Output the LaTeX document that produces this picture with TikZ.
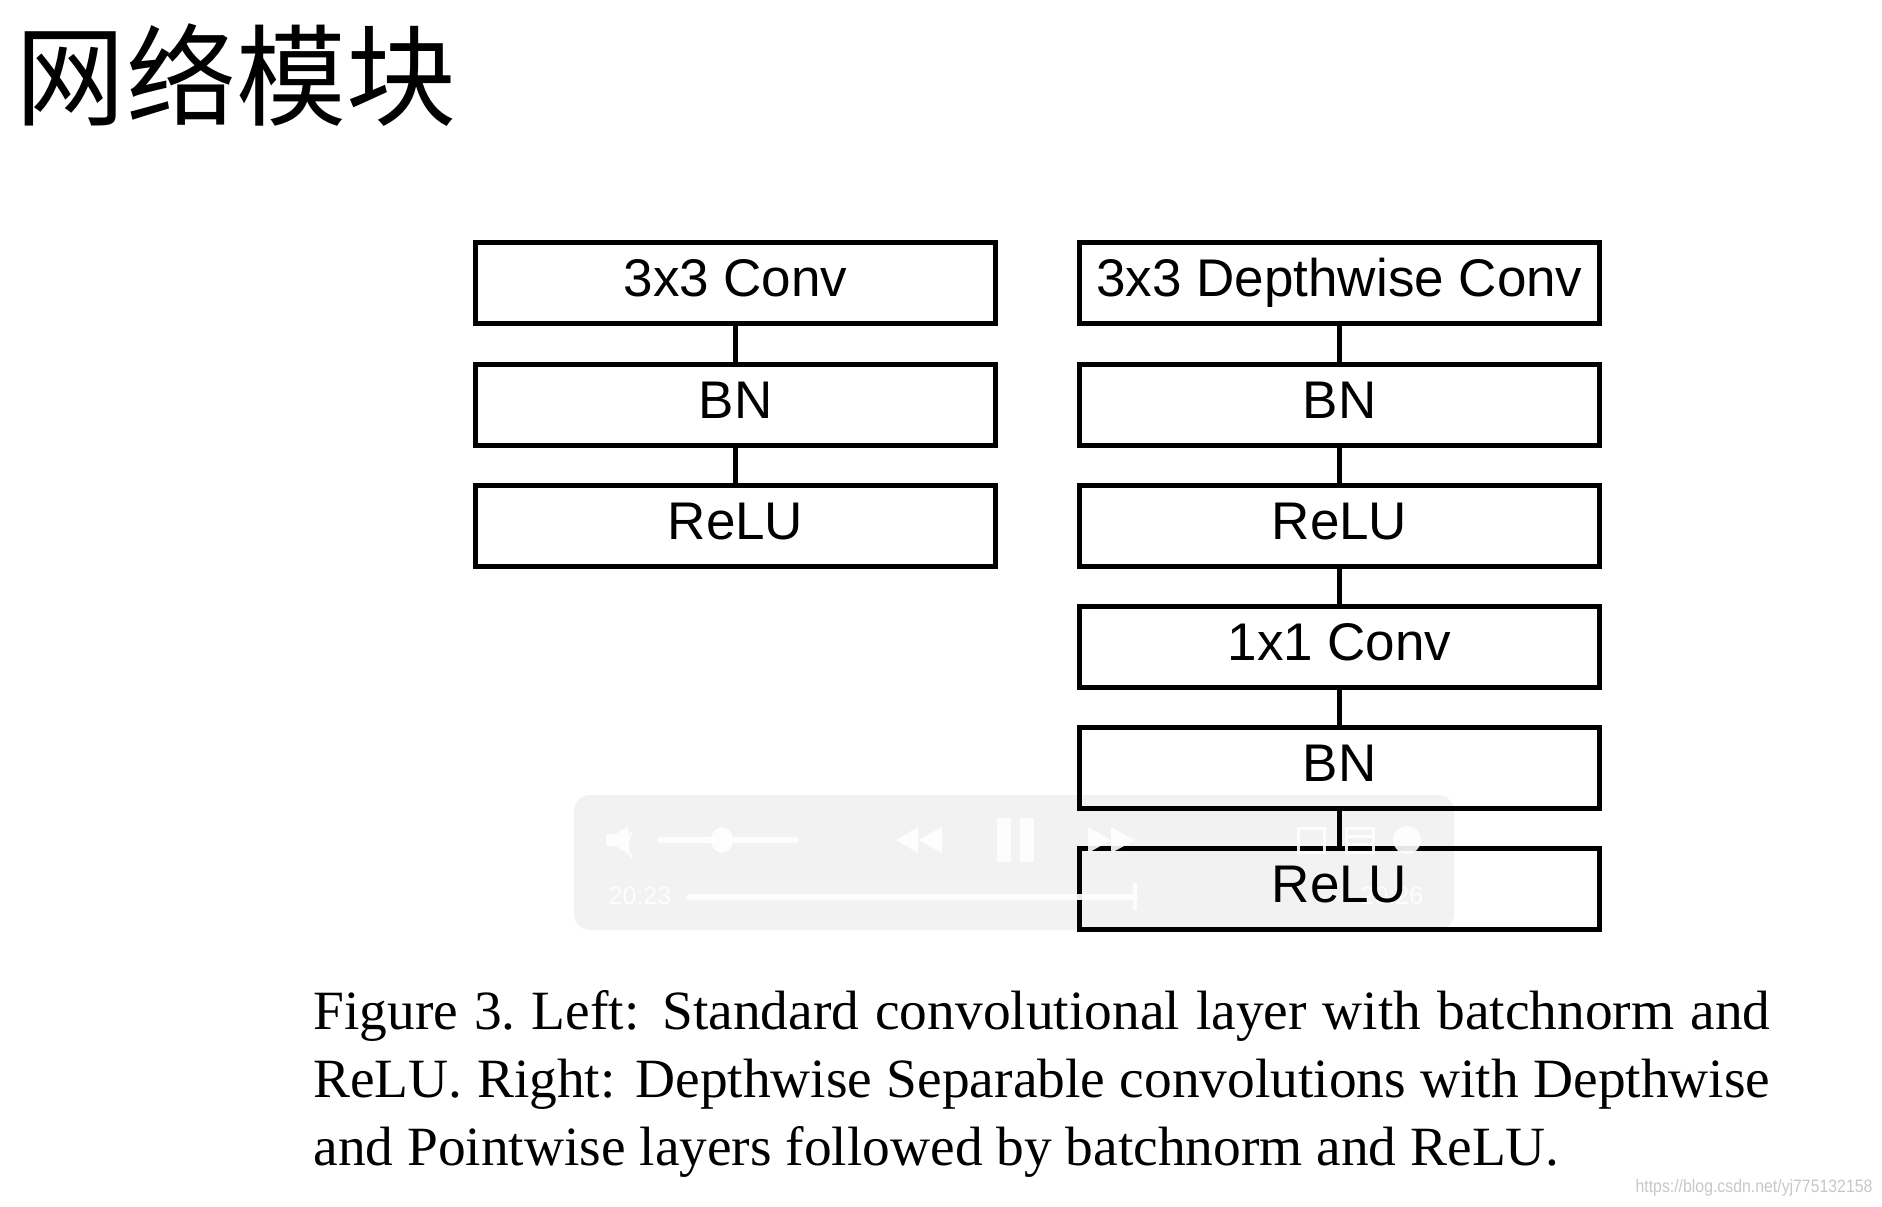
\documentclass[tikz,border=0pt]{standalone}
\usepackage{fontspec}
\setmainfont{Liberation Serif}
\newfontfamily\boxfont{Liberation Sans}
\newfontfamily\cjkfont{Noto Sans CJK SC}
\usetikzlibrary{positioning}

\begin{document}
\begin{tikzpicture}[x=0.5pt, y=-0.5pt]
    % Define styles
    \tikzset{
        layer/.style={draw, rectangle, line width=2.4pt, minimum width=260pt, minimum height=40.5pt, inner sep=0pt,
            font=\boxfont\fontsize{26.5}{30}\selectfont, text height=19pt, text depth=5.3pt},
        link/.style={line width=2.4pt},
        player/.style={fill=black!5, rounded corners=8pt},
        icon/.style={fill=white, draw=none, opacity=0.9},
        iconline/.style={draw=white, opacity=0.9}
    }
    \useasboundingbox (0,0) rectangle (1882,1206);

    % Title
    \node[font=\cjkfont\fontsize{55}{60}\selectfont, inner sep=0pt] (title) at (236,75) {网络模块};

    % Video player bar (behind the blocks)
    \fill[player] (574,795) rectangle (1454,930);
    \node[text=white, opacity=0.9, font=\boxfont\fontsize{12.5}{14}\selectfont, inner sep=0pt] (tend) at (1392,896) {20:26};

    % Left: standard convolution
    \node[layer] (conv) at (735.5,283) {3x3 Conv};
    \node[layer] (bnl) at (735.5,405) {BN};
    \node[layer] (relul) at (735.5,526) {ReLU};

    % Right: depthwise separable convolution
    \node[layer] (dw) at (1339.5,283) {3x3 Depthwise Conv};
    \node[layer] (bn1) at (1339.5,405) {BN};
    \node[layer] (relu1) at (1339.5,526) {ReLU};
    \node[layer] (pw) at (1339.5,647) {1x1 Conv};
    \node[layer] (bn2) at (1339.5,768) {BN};
    \node[layer] (relu2) at (1339.5,889) {ReLU};

    % Draw links
    \draw[link] (conv) -- (bnl);
    \draw[link] (bnl) -- (relul);
    \draw[link] (dw) -- (bn1);
    \draw[link] (bn1) -- (relu1);
    \draw[link] (relu1) -- (pw);
    \draw[link] (pw) -- (bn2);
    \draw[link] (bn2) -- (relu2);

    % Player controls
    \fill[icon] (606,834) -- (616,834) -- (628,826) -- (628,854) -- (616,846) -- (606,846) -- cycle;
    \draw[iconline, line width=1.2pt] (632,832) arc (-40:40:-10pt);
    \draw[iconline, line width=3pt, line cap=round] (660,840) -- (796,840);
    \fill[icon] (722,840) ellipse (5.5pt and 6.5pt);
    \fill[icon] (896,840) -- (918,827) -- (918,853) -- cycle;
    \fill[icon] (918,840) -- (942,827) -- (942,853) -- cycle;
    \fill[icon] (997,818) rectangle (1011,862);
    \fill[icon] (1020,818) rectangle (1034,862);
    \fill[icon] (1135,840) -- (1111,827) -- (1111,853) -- cycle;
    \fill[icon] (1111,840) -- (1088,827) -- (1088,853) -- cycle;
    \draw[iconline, line width=1.5pt] (1298,828) rectangle (1324,852);
    \draw[iconline, line width=1.5pt] (1346,828) rectangle (1373,852);
    \draw[iconline, line width=1.5pt] (1346,836) -- (1373,836) (1346,844) -- (1373,844);
    \fill[icon] (1407,840) circle (7pt);
    \node[text=white, opacity=0.9, font=\boxfont\fontsize{12.5}{14}\selectfont, inner sep=0pt] (tnow) at (640,896) {20:23};
    \draw[iconline, line width=3pt, line cap=round] (689,897) -- (1135,897);
    \draw[iconline, line width=2pt] (1135,883) -- (1135,910);

    % Caption
    \node[anchor=north west, inner sep=0pt, text width=728.5pt, align=justify,
        font=\fontsize{27.7}{34}\selectfont] (caption) at (313,990)
        {Figure 3.\ Left: Standard convolutional layer with batchnorm and\linebreak
         ReLU. Right: Depthwise Separable convolutions with Depthwise\linebreak
         and Pointwise layers followed by batchnorm and ReLU.};

    % Watermark
    \node[text=black!22, font=\boxfont\fontsize{9}{10}\selectfont, inner sep=0pt, xscale=0.88, transform shape] (mark) at (1754,1188) {https://blog.csdn.net/yj775132158};
\end{tikzpicture}
\end{document}
